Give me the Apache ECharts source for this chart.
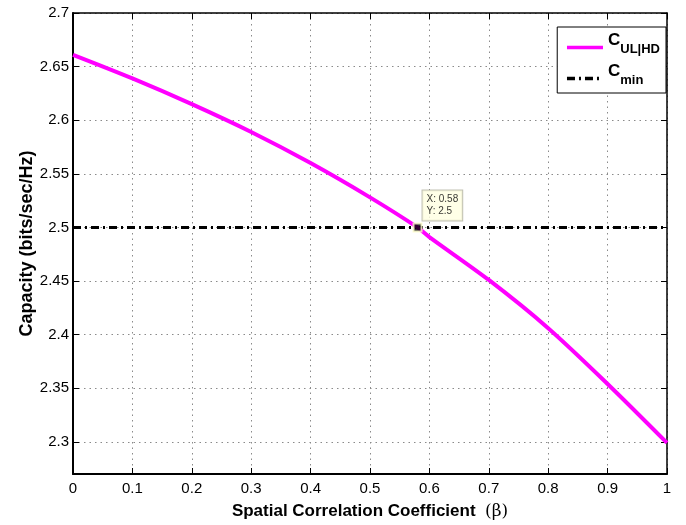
<!DOCTYPE html>
<html>
<head>
<meta charset="utf-8">
<script src="https://cdn.jsdelivr.net/npm/echarts@6/dist/echarts.min.js"></script>
<style>
  html, body { margin: 0; padding: 0; background: #fff; }
  #chart { width: 686px; height: 525px; }
</style>
</head>
<body>
<div id="chart"></div>
<script>
// Spatial correlation coefficient beta
const beta = [0, 0.1, 0.2, 0.3, 0.4, 0.5, 0.58, 0.6, 0.7, 0.8, 0.9, 1.0];
// Uplink half-duplex capacity (bits/sec/Hz)
const capacityUL = [2.661, 2.639, 2.615, 2.589, 2.560, 2.528, 2.500, 2.491, 2.451, 2.406, 2.354, 2.299];
// Minimum required capacity
const cMin = 2.5;
const cMinX = [0, 1];
// Data cursor point
const cursorPoint = [0.58, 2.5];
// Y tick labels
const yTicks = [2.3, 2.35, 2.4, 2.45, 2.5, 2.55, 2.6, 2.65, 2.7];

const FONT = '"Liberation Sans", Arial, Helvetica, sans-serif';

const chart = echarts.init(document.getElementById('chart'));

const gridLine = { show: true, lineStyle: { color: '#8a8a8a', type: [1.5, 4], width: 1 } };

chart.setOption({
  animation: false,
  backgroundColor: '#ffffff',
  grid: { left: 73, right: 19, top: 13, bottom: 51, containLabel: false },
  xAxis: [{
    type: 'value', min: 0, max: 1, interval: 0.1,
    position: 'bottom',
    name: '{b|Spatial Correlation Coefficient  }{g|(β)}',
    nameLocation: 'middle', nameGap: 29,
    nameTextStyle: {
      rich: {
        b: { fontFamily: FONT, fontSize: 17, fontWeight: 'bold', color: '#000' },
        g: { fontFamily: '"DejaVu Serif", serif', fontSize: 17, color: '#000' }
      }
    },
    axisLine: { show: true, onZero: false, lineStyle: { color: '#000', width: 2 } },
    axisTick: { show: true, inside: true, length: 6, lineStyle: { color: '#000', width: 1 } },
    axisLabel: { fontFamily: FONT, fontSize: 15, color: '#000', margin: 7 },
    splitLine: gridLine
  }, {
    type: 'value', min: 0, max: 1, interval: 0.1,
    position: 'top',
    axisLine: { show: true, onZero: false, lineStyle: { color: '#000', width: 1.5 } },
    axisTick: { show: true, inside: true, length: 6, lineStyle: { color: '#000', width: 1 } },
    axisLabel: { show: false },
    splitLine: { show: false }
  }],
  yAxis: [{
    type: 'value', min: 2.27, max: 2.7,
    position: 'left',
    name: 'Capacity (bits/sec/Hz)',
    nameLocation: 'middle', nameGap: 37,
    nameMoveOverlap: false,
    nameTextStyle: { fontFamily: FONT, fontSize: 18, fontWeight: 'bold', color: '#000' },
    axisLine: { show: true, onZero: false, lineStyle: { color: '#000', width: 2 } },
    axisTick: { show: true, inside: true, length: 6, customValues: yTicks, lineStyle: { color: '#000', width: 1 } },
    axisLabel: { fontFamily: FONT, fontSize: 15, color: '#000', margin: 4, customValues: yTicks },
    splitLine: gridLine
  }, {
    type: 'value', min: 2.27, max: 2.7,
    position: 'right',
    axisLine: { show: true, onZero: false, lineStyle: { color: '#000', width: 1.5 } },
    axisTick: { show: true, inside: true, length: 6, customValues: yTicks, lineStyle: { color: '#000', width: 1 } },
    axisLabel: { show: false, customValues: yTicks },
    splitLine: { show: false }
  }],
  legend: {
    orient: 'vertical',
    right: 20, top: 27,
    padding: [5, 6, 6, 8],
    itemGap: 7,
    itemWidth: 36, itemHeight: 14,
    backgroundColor: '#fff',
    borderColor: '#000', borderWidth: 1,
    data: ['UL', 'MIN'],
    // line-only legend icons
    itemStyle: { color: 'rgba(0,0,0,0)', borderColor: 'rgba(0,0,0,0)', borderWidth: 0 },
    lineStyle: { width: 3.5 },
    formatter: function (name) {
      return name === 'UL' ? '{c|C}{s|UL|HD}' : '{c|C}{s|min}';
    },
    textStyle: {
      rich: {
        c: { fontFamily: FONT, fontSize: 17, lineHeight: 17, fontWeight: 'bold', color: '#000', verticalAlign: 'bottom', padding: [0, 0, 7, 0] },
        s: { fontFamily: FONT, fontSize: 13, lineHeight: 13, fontWeight: 'bold', color: '#000', verticalAlign: 'bottom' }
      }
    }
  },
  series: [{
    name: 'UL',
    type: 'line',
    data: beta.map((b, i) => [b, capacityUL[i]]),
    smooth: 0.3,
    showSymbol: false,
    symbol: 'none',
    lineStyle: { color: '#ff00ff', width: 4 },
    itemStyle: { color: '#ff00ff' },
    z: 3
  }, {
    name: 'MIN',
    type: 'line',
    data: cMinX.map(x => [x, cMin]),
    showSymbol: false,
    symbol: 'none',
    lineStyle: { color: '#000', width: 3, type: [8, 4, 2, 4] },
    itemStyle: { color: '#000' },
    z: 2
  }, {
    name: 'cursor',
    type: 'scatter',
    data: [cursorPoint],
    symbol: 'rect',
    symbolSize: 8,
    itemStyle: { color: '#000', borderColor: '#ffffcc', borderWidth: 2 },
    label: {
      show: true,
      position: [10, -32],
      formatter: function (p) { return 'X: ' + p.value[0] + '\nY: ' + p.value[1]; },
      fontFamily: FONT, fontSize: 10, color: '#000', lineHeight: 12,
      backgroundColor: '#ffffe1', borderColor: '#b0b0a0', borderWidth: 1,
      padding: [3, 4, 3, 4]
    },
    z: 5
  }]
});
</script>
</body>
</html>
